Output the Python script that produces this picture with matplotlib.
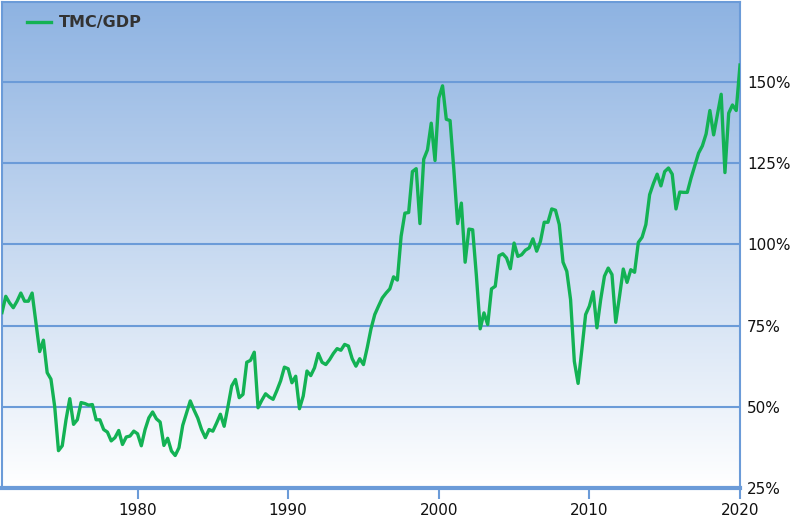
import numpy as np
import matplotlib
matplotlib.use("Agg")
import matplotlib.pyplot as plt
from matplotlib.colors import LinearSegmentedColormap

# quarterly TMC/GDP ratio (%), starting 1971 Q1
tmc_gdp = [
    79, 84, 82, 80.5,            # 1971
    82.5, 85, 82.5, 82.5,        # 1972
    85, 76, 67, 70.5,            # 1973
    60.5, 58.5, 50, 36.5,        # 1974
    38, 46, 52.5, 44.6,          # 1975
    46, 51.3, 51, 50.5,          # 1976
    50.7, 46, 46, 43,            # 1977
    42.2, 39.5, 40.5, 42.7,      # 1978
    38.4, 40.7, 41, 42.5,        # 1979
    41.7, 38, 43, 46.6,          # 1980
    48.4, 46.3, 45.3, 38.1,      # 1981
    40.3, 36.4, 35, 37.4,        # 1982
    44.3, 48, 51.8, 49,          # 1983
    46.5, 43, 40.5, 43,          # 1984
    42.5, 45, 47.7, 44,          # 1985
    50, 56.4, 58.4, 52.8,        # 1986
    53.8, 63.7, 64.3, 66.8,      # 1987
    49.7, 52, 54, 53,            # 1988
    52.3, 55, 58, 62.2,          # 1989
    61.7, 57.4, 59.4, 49.4,      # 1990
    53.3, 61, 59.6, 62,          # 1991
    66.4, 63.7, 63, 64.5,        # 1992
    66.4, 67.9, 67.4, 69.2,      # 1993
    68.7, 64.8, 62.5, 64.8,      # 1994
    63, 68.2, 74, 78.4,          # 1995
    81, 83.5, 85, 86.3,          # 1996
    90, 89, 102.5, 109.6,        # 1997
    109.8, 122.4, 123.3, 106.4,  # 1998
    126.2, 129.1, 137.3, 125.8,  # 1999
    145, 148.8, 138.5, 138.1,    # 2000
    123, 106.4, 112.7, 94.5,     # 2001
    104.7, 104.5, 90.2, 74,      # 2002
    78.9, 75.3, 86.3, 87.1,      # 2003
    96.5, 97.1, 95.8, 92.5,      # 2004
    100.4, 96.3, 96.8, 98.2,     # 2005
    98.9, 101.7, 97.9, 100.9,    # 2006
    106.8, 106.8, 110.9, 110.5,  # 2007
    106.1, 94.5, 91.7, 83,       # 2008
    64, 57.2, 67.6, 78.4,        # 2009
    81, 85.4, 74.3, 83,          # 2010
    90.2, 92.7, 90.7, 76,        # 2011
    84, 92.4, 88.3, 92.2,        # 2012
    91.4, 100.6, 102.2, 106.1,   # 2013
    115.3, 118.7, 121.6, 118,    # 2014
    122.4, 123.5, 121.6, 110.9,  # 2015
    116.1, 116, 116, 120.4,      # 2016
    124.2, 128.1, 130.3, 134,    # 2017
    141.2, 133.7, 139.9, 146.2,  # 2018
    122.1, 140.4, 142.9, 141.2,  # 2019
    155.2,                       # 2020
]
start_year = 1971
year_ticks = [1980, 1990, 2000, 2010, 2020]
pct_ticks = [25, 50, 75, 100, 125, 150]

years = start_year + np.arange(len(tmc_gdp)) * 0.25

blue = "#6b9bd8"
green = "#13b254"

fig = plt.figure(figsize=(7.97, 5.30), dpi=100)
ax = fig.add_axes([2 / 797, 42 / 530, 738 / 797, 486 / 530])

# background gradient, white at bottom to blue at top
cmap = LinearSegmentedColormap.from_list("bg", ["#ffffff", "#8eb3e2"])
grad = np.linspace(0, 1, 256).reshape(-1, 1)
ax.imshow(grad, extent=[0, 1, 0, 1], transform=ax.transAxes, origin="lower",
          aspect="auto", cmap=cmap, zorder=0)

for v in pct_ticks[1:]:
    ax.axhline(v, color=blue, lw=1.5, zorder=1)

ax.plot(years, tmc_gdp, color=green, lw=2.4, label="TMC/GDP", zorder=3)

ax.set_xlim(years[0], years[-1])
ax.set_ylim(25, 174.6)

ax.yaxis.tick_right()
ax.set_yticks(pct_ticks)
ax.set_yticklabels([f"{v}%" for v in pct_ticks])
ax.set_xticks(year_ticks)
ax.set_xticklabels([str(y) for y in year_ticks])
ax.tick_params(axis="y", length=0, pad=5, labelsize=11, labelcolor="#111111")
ax.tick_params(axis="x", length=8, width=1.5, color=blue, pad=3,
               labelsize=11, labelcolor="#111111")

for side in ["left", "right", "top"]:
    ax.spines[side].set_color(blue)
    ax.spines[side].set_linewidth(1.5)
ax.spines["bottom"].set_color(blue)
ax.spines["bottom"].set_linewidth(3)

# legend sits near top-left corner, no frame
leg = ax.legend(loc="upper left", bbox_to_anchor=(19 / 738, 1 - 7 / 486),
                borderaxespad=0, frameon=False, handlelength=1.45,
                handletextpad=0.5, prop={"weight": "bold", "size": 11.5})
for t in leg.get_texts():
    t.set_color("#333333")

fig.savefig("out.png", dpi=100)
